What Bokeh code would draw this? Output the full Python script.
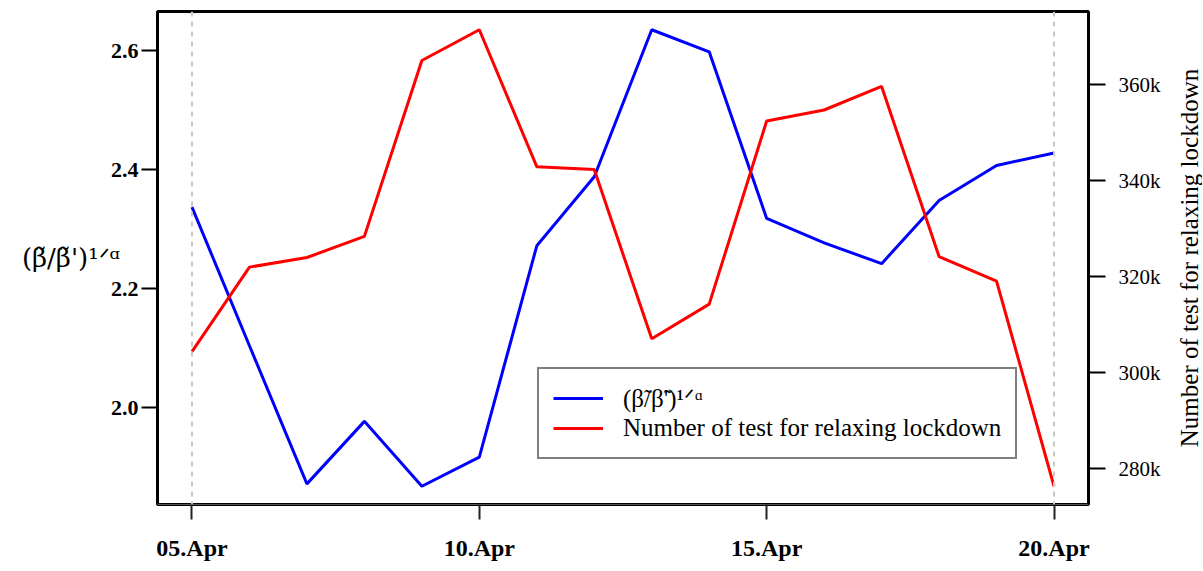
import math
import pandas as pd
from bokeh.plotting import figure
from bokeh.layouts import row
from bokeh.models import (Range1d, LinearAxis, FixedTicker, NumeralTickFormatter,
                          DatetimeTickFormatter, Legend, LegendItem, Span, Label)
from bokeh.embed import file_html
from bokeh.resources import INLINE

# ---- data ----
dates = ["2020-04-05", "2020-04-06", "2020-04-07", "2020-04-08", "2020-04-09",
         "2020-04-10", "2020-04-11", "2020-04-12", "2020-04-13", "2020-04-14",
         "2020-04-15", "2020-04-16", "2020-04-17", "2020-04-18", "2020-04-19",
         "2020-04-20"]
ratio = [2.337, 2.104, 1.872, 1.977, 1.868, 1.917, 2.272, 2.388,
         2.635, 2.598, 2.318, 2.277, 2.242, 2.348, 2.407, 2.428]
tests = [304400, 322000, 324000, 328400, 365000, 371400, 342900, 342300,
         307100, 314300, 352400, 354700, 359600, 324200, 319100, 276400]
x_tick_dates = ["2020-04-05", "2020-04-10", "2020-04-15", "2020-04-20"]
left_ticks = [2.0, 2.2, 2.4, 2.6]
right_ticks = [280000, 300000, 320000, 340000, 360000]
ratio_label = "(β̃/β̃')¹ᐟᵅ"
tests_label = "Number of test for relaxing lockdown"

x = pd.to_datetime(dates)
SERIF = "Liberation Serif"


def pad(lo, hi, f=0.04):
    d = (hi - lo) * f
    return lo - d, hi + d


x0, x1 = x.min(), x.max()
span = x1 - x0
xr = Range1d(x0 - span * 0.04, x1 + span * 0.04)
yl = pad(min(ratio), max(ratio))
yr = pad(min(tests), max(tests))

W, H = 1165, 563
W2 = 37
FL, FT, FW, FH = 157, 11, 931, 497
p = figure(width=W, height=H, x_axis_type="datetime", x_range=xr,
           y_range=Range1d(*yl), output_backend="svg", toolbar_location=None,
           min_border_left=FL, min_border_right=W - FL - FW,
           min_border_top=FT, min_border_bottom=H - FT - FH)
p.extra_y_ranges = {"tests": Range1d(*yr)}

p.xgrid.visible = False
p.ygrid.visible = False
p.outline_line_color = "black"
p.outline_line_width = 3
p.background_fill_color = "white"
p.border_fill_color = "white"

for d in (x0, x1):
    p.add_layout(Span(location=d, dimension="height", line_color="#c8c8c8",
                      line_width=2, line_dash="5 5"))

r1 = p.line(x, ratio, line_color="#0000ff", line_width=3)
r2 = p.line(x, tests, line_color="#ff0000", line_width=3, y_range_name="tests")

# x axis
xa = p.xaxis[0]
xa.ticker = FixedTicker(ticks=[pd.Timestamp(d).value / 1e6 for d in x_tick_dates])
xa.formatter = DatetimeTickFormatter(days="%d.%b", months="%d.%b")
xa.minor_tick_line_color = None
xa.major_tick_out = 15
xa.major_tick_in = 0
xa.major_tick_line_width = 2
xa.major_tick_line_color = "#222222"
xa.axis_line_color = "#555555"
xa.major_label_standoff = 15
xa.major_label_text_font = SERIF
xa.major_label_text_font_size = "24px"
xa.major_label_text_font_style = "bold"
xa.major_label_text_color = "black"

# left axis (horizontal title like the reference)
ya = p.yaxis[0]
ya.ticker = FixedTicker(ticks=left_ticks)
ya.formatter = NumeralTickFormatter(format="0.0")
ya.minor_tick_line_color = None
ya.major_tick_out = 16
ya.major_tick_in = 0
ya.major_tick_line_width = 2
ya.major_tick_line_color = "black"
ya.axis_line_color = None
ya.major_label_standoff = 3
ya.major_label_text_font = SERIF
ya.major_label_text_font_size = "22px"
ya.major_label_text_font_style = "bold"
ya.major_label_text_color = "black"
ya.axis_label = ratio_label
ya.axis_label_orientation = "horizontal"
ya.axis_label_standoff = -12
ya.axis_label_text_font = "DejaVu Serif"
ya.axis_label_text_font_size = "26px"
ya.axis_label_text_font_style = "normal"
ya.axis_label_text_color = "black"

# right axis (its title is drawn in the narrow strip to the right)
ra = LinearAxis(y_range_name="tests")
ra.ticker = FixedTicker(ticks=right_ticks)
ra.formatter = NumeralTickFormatter(format="0a")
ra.minor_tick_line_color = None
ra.major_tick_out = 17
ra.major_tick_in = 0
ra.major_tick_line_width = 2
ra.major_tick_line_color = "black"
ra.axis_line_color = None
ra.major_label_standoff = 13
ra.major_label_text_font = SERIF
ra.major_label_text_font_size = "21px"
ra.major_label_text_color = "black"
p.add_layout(ra, "right")

legend = Legend(items=[LegendItem(label=ratio_label, renderers=[r1]),
                       LegendItem(label=tests_label, renderers=[r2])],
                location=(380, 45), label_text_font=SERIF,
                label_text_font_size="25px", label_text_color="black",
                glyph_width=50, glyph_height=30, label_height=30,
                label_standoff=20, padding=14, spacing=0, margin=0,
                border_line_color="black", border_line_width=2,
                background_fill_alpha=1.0)
p.add_layout(legend, "center")

# strip holding the right-axis title, reading bottom-to-top
# (its frame is aligned with the main plot's frame by the row layout)
q = figure(width=W2, height=H, x_range=Range1d(0, W2),
           y_range=Range1d(FT + FH, FT),
           output_backend="svg", toolbar_location=None,
           x_axis_location=None, y_axis_location=None,
           min_border_left=0, min_border_right=0, min_border_top=0,
           min_border_bottom=0)
q.outline_line_color = None
q.grid.visible = False
q.border_fill_color = "white"
q.background_fill_color = "white"
q.add_layout(Label(x=W2 - 13, y=FT + FH / 2, text=tests_label,
                   angle=math.pi / 2, text_align="center",
                   text_baseline="middle", text_font=SERIF,
                   text_font_size="25px", text_color="black"))

layout = row(p, q, spacing=0)
open("out.html", "w").write(file_html(layout, INLINE))
